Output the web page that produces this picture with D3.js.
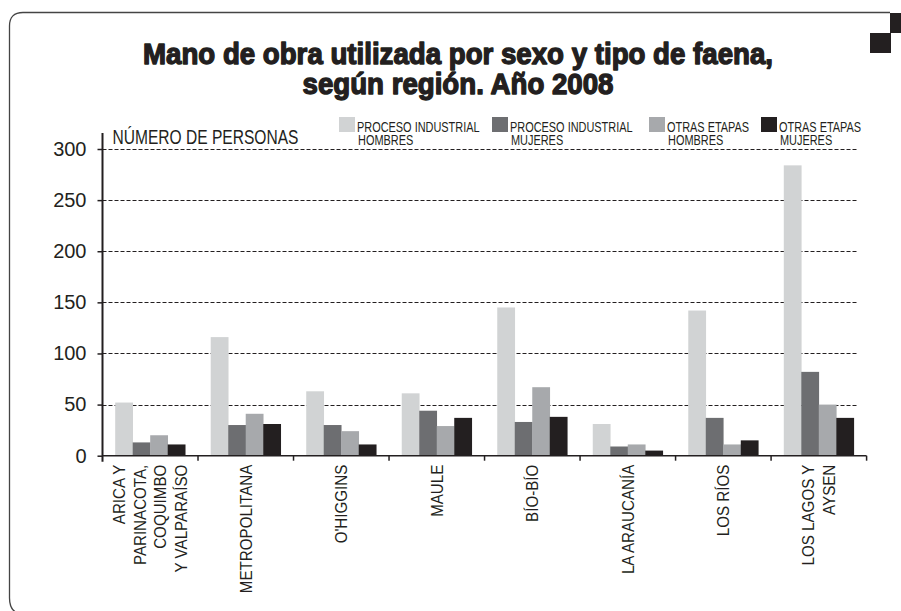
<!DOCTYPE html>
<html>
<head>
<meta charset="utf-8">
<script src="https://cdn.jsdelivr.net/npm/d3@7"></script>
<style>
  body { margin: 0; background: #fff; }
  text { fill: #231f20; }
</style>
</head>
<body>
<div id="chart"></div>
<script>
// Data
const regions = [
    ["ARICA Y", "PARINACOTA,", "COQUIMBO", "Y VALPARAÍSO"],
    ["METROPOLITANA"],
    ["O'HIGGINS"],
    ["MAULE"],
    ["BÍO-BÍO"],
    ["LA ARAUCANÍA"],
    ["LOS RÍOS"],
    ["LOS LAGOS Y", "AYSEN"]
];
const seriesNames = [
    ["PROCESO INDUSTRIAL", "HOMBRES"],
    ["PROCESO INDUSTRIAL", "MUJERES"],
    ["OTRAS ETAPAS", "HOMBRES"],
    ["OTRAS ETAPAS", "MUJERES"]
];
const procesoHombres = [52, 116, 63, 61, 145, 31, 142, 284];
const procesoMujeres = [13, 30, 30, 44, 33, 9, 37, 82];
const otrasHombres = [20, 41, 24, 29, 67, 11, 11, 50];
const otrasMujeres = [11, 31, 11, 37, 38, 5, 15, 37];
const yTicks = [0, 50, 100, 150, 200, 250, 300];
const titleLines = ["Mano de obra utilizada por sexo y tipo de faena,", "según región. Año 2008"];
const yTitle = "NÚMERO DE PERSONAS";

const colors = ["#d1d3d4", "#6d6e71", "#a7a9ac", "#231f20"];
const series = [procesoHombres, procesoMujeres, otrasHombres, otrasMujeres];

const font = "'Liberation Sans', Arial, sans-serif";

// Squeeze text horizontally (no narrow font installed)
let condense = (sel, k) => sel.each(function() {
    let w = this.getComputedTextLength();
    d3.select(this)
        .attr("textLength", w * k)
        .attr("lengthAdjust", "spacingAndGlyphs");
});

// Set dimensions
let width = 901,
    height = 611;

let svg = d3.select("#chart")
    .append("svg")
        .attr("width", width)
        .attr("height", height);

// Frame
svg.append("path")
    .attr("d", "M890,12.5 L23,12.5 Q9.5,12.5 9.5,26 L9.5,598 Q9.5,614 24,614")
    .attr("fill", "none")
    .attr("stroke", "#444")
    .attr("stroke-width", 1.3);
svg.append("rect").attr("x", 890).attr("y", 13).attr("width", 20).attr("height", 20).attr("fill", "#231f20");
svg.append("rect").attr("x", 870).attr("y", 33).attr("width", 21).attr("height", 20).attr("fill", "#231f20");

// Title
svg.selectAll(".title")
    .data(titleLines)
    .join("text")
        .attr("class", "title")
        .attr("x", 458)
        .attr("y", (d, i) => 63.5 + i * 30)
        .attr("text-anchor", "middle")
        .attr("textLength", (d, i) => i === 0 ? 630 : 311)
        .attr("lengthAdjust", "spacingAndGlyphs")
        .style("font-family", font)
        .style("font-weight", "bold")
        .style("font-size", "30px")
        .style("stroke", "#231f20")
        .style("stroke-width", 1.4)
        .style("stroke-linejoin", "round")
        .text(d => d);

// Scales
let x0 = d3.scaleBand()
    .domain(d3.range(regions.length))
    .range([102.5, 866.5])
    .paddingInner(0.267)
    .paddingOuter(0.133);

let x1 = d3.scaleBand()
    .domain(d3.range(series.length))
    .range([0, x0.bandwidth()]);

let y = d3.scaleLinear()
    .domain([0, 300])
    .range([455.7, 149]);

let left = x0.range()[0],
    right = x0.range()[1];

// Gridlines
svg.append("g")
    .selectAll("line")
    .data(yTicks.filter(d => d > 0))
    .join("line")
        .attr("x1", left)
        .attr("x2", right - 8)
        .attr("y1", d => Math.round(y(d)) + 0.5)
        .attr("y2", d => Math.round(y(d)) + 0.5)
        .attr("stroke", "#231f20")
        .attr("stroke-width", 1)
        .attr("stroke-dasharray", "4,2");

// Bars
svg.append("g")
    .selectAll("g")
    .data(regions)
    .join("g")
        .attr("transform", (d, i) => `translate(${x0(i)},0)`)
    .selectAll("rect")
    .data((d, i) => series.map((s, j) => ({ j: j, v: s[i] })))
    .join("rect")
        .attr("x", d => x1(d.j))
        .attr("width", x1.bandwidth() + 0.3)
        .attr("y", d => y(d.v))
        .attr("height", d => y(0) - y(d.v))
        .attr("fill", d => colors[d.j]);

// Y axis
let yAxis = svg.append("g")
    .attr("transform", `translate(${left},0)`)
    .call(d3.axisLeft(y).tickValues(yTicks).tickSize(5).tickPadding(11));
yAxis.select(".domain").remove();
yAxis.selectAll(".tick line").attr("stroke", "#231f20").attr("stroke-width", 1.5);
yAxis.selectAll(".tick text")
    .style("font-family", font)
    .style("font-size", "20px")
    .attr("fill", "#231f20");
svg.append("line")
    .attr("x1", left).attr("x2", left)
    .attr("y1", y(300) - 16).attr("y2", y(0) + 6)
    .attr("stroke", "#231f20")
    .attr("stroke-width", 2);

// X axis
svg.append("line")
    .attr("x1", left).attr("x2", right)
    .attr("y1", y(0)).attr("y2", y(0))
    .attr("stroke", "#231f20")
    .attr("stroke-width", 1.6);
svg.append("g")
    .selectAll("line")
    .data(d3.range(1, regions.length + 1))
    .join("line")
        .attr("x1", i => left + i * x0.step())
        .attr("x2", i => left + i * x0.step())
        .attr("y1", y(0))
        .attr("y2", y(0) + 5)
        .attr("stroke", "#231f20")
        .attr("stroke-width", 1.5);

// X labels
let lineGap = 20.5;
svg.append("g")
    .selectAll("text")
    .data(regions.flatMap((lines, i) => lines.map((t, k) => ({ t: t, i: i, k: k, n: lines.length }))))
    .join("text")
        .attr("transform", d => {
            let cx = x0(d.i) + x0.bandwidth() / 2 + (d.k - (d.n - 1) / 2) * lineGap + 5.8;
            return `translate(${cx},${y(0) + 9}) rotate(-90)`;
        })
        .attr("text-anchor", "end")
        .style("font-family", font)
        .style("font-size", "16.3px")
        .text(d => d.t)
        .call(condense, 0.93);

// Y title
svg.append("text")
    .attr("x", 112.5)
    .attr("y", 144)
    .attr("textLength", 186)
    .attr("lengthAdjust", "spacingAndGlyphs")
    .style("font-family", font)
    .style("font-size", "20px")
    .text(yTitle);

// Legend
const legendX = [339, 492, 649, 761];
let legend = svg.append("g")
    .selectAll("g")
    .data(seriesNames)
    .join("g")
        .attr("transform", (d, i) => `translate(${legendX[i]},117)`);
legend.append("rect")
    .attr("width", 16)
    .attr("height", 15)
    .attr("fill", (d, i) => colors[i]);
legend.selectAll("text")
    .data(d => d)
    .join("text")
        .attr("x", (d, k) => k === 0 ? 18 : 19)
        .attr("y", (d, k) => 15 + k * 13)
        .style("font-family", font)
        .style("font-size", "14px")
        .text(d => d)
        .call(condense, 0.78);
</script>
</body>
</html>
